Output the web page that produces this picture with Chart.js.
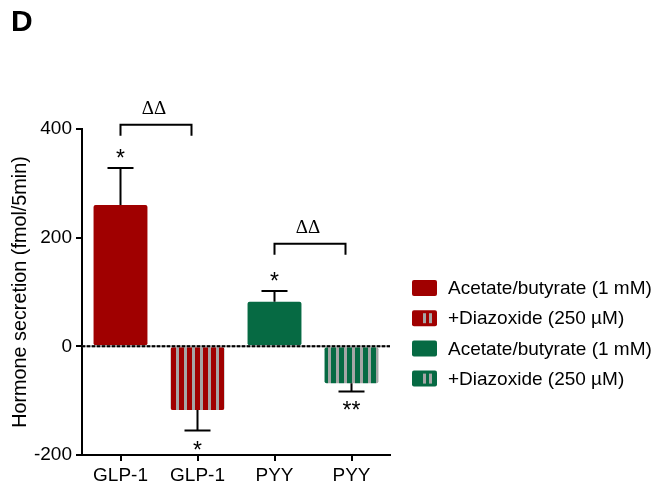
<!DOCTYPE html>
<html><head><meta charset="utf-8">
<script src="https://cdn.jsdelivr.net/npm/chart.js@4/dist/chart.umd.min.js"></script>
<style>html,body{margin:0;padding:0;background:#fff;}#wrap{width:665px;height:486px;position:relative;}</style>
</head><body><div id="wrap"><canvas id="c" width="665" height="486"></canvas></div>
<script>
// ---- data ----
const categories = ["GLP-1", "GLP-1", "PYY", "PYY"];
const means = [260, -117, 82, -68];
const sems = [68, 38, 20, 15];
const striped = [false, true, false, true];
const significance = ["*", "*", "*", "**"];
const yTicks = [-200, 0, 200, 400];
const legendLabels = ["Acetate/butyrate (1 mM)", "+Diazoxide (250 \u00B5M)", "Acetate/butyrate (1 mM)", "+Diazoxide (250 \u00B5M)"];
const bracketFrom = [0, 2];
const bracketTo = [1, 3];
const bracketLevel = [408, 189];
const bracketLabel = ["\u0394\u0394", "\u0394\u0394"];
const panelLabel = "D";
const yTitle = "Hormone secretion (fmol/5min)";

// ---- styles ----
const RED = '#A00000', GREEN = '#066A43', STRIPE = '#A6A6A6';
const baseColors = [RED, RED, GREEN, GREEN];
const SANS = "'Liberation Sans', Arial, Helvetica, sans-serif";
const SERIF = "'Liberation Serif', 'Times New Roman', serif";
const canvas = document.getElementById('c');
const ctx0 = canvas.getContext('2d');
function stripePattern(base) {
  const c = document.createElement('canvas'); c.width = 8; c.height = 8;
  const x = c.getContext('2d');
  x.fillStyle = base; x.fillRect(0, 0, 8, 8);
  x.fillStyle = STRIPE; x.fillRect(0, 0, 3, 8);
  return ctx0.createPattern(c, 'repeat');
}
const fills = baseColors.map((c, i) => striped[i] ? stripePattern(c) : c);

const overlay = {
  id: 'overlay',
  afterDatasetsDraw(chart) {
    const ctx = chart.ctx, xs = chart.scales.x, ys = chart.scales.y, ca = chart.chartArea;
    ctx.save();
    // zero line
    const y0 = ys.getPixelForValue(0);
    ctx.lineWidth = 2;
    ctx.strokeStyle = '#8a8a8a';
    ctx.beginPath(); ctx.moveTo(ca.left, y0); ctx.lineTo(ca.right, y0); ctx.stroke();
    ctx.setLineDash([3, 2]); ctx.strokeStyle = '#000';
    ctx.beginPath(); ctx.moveTo(ca.left, y0); ctx.lineTo(ca.right, y0); ctx.stroke();
    ctx.setLineDash([]);
    // error bars + asterisks
    ctx.strokeStyle = '#000'; ctx.lineWidth = 2;
    ctx.fillStyle = '#000';
    ctx.font = '23px ' + SANS; ctx.textAlign = 'center'; ctx.textBaseline = 'alphabetic';
    means.forEach((m, i) => {
      const x = xs.getPixelForValue(i);
      const dir = m >= 0 ? 1 : -1;
      const yA = ys.getPixelForValue(m), yB = ys.getPixelForValue(m + dir * sems[i]);
      ctx.beginPath(); ctx.moveTo(x, yA); ctx.lineTo(x, yB);
      ctx.moveTo(x - 13, yB); ctx.lineTo(x + 13, yB); ctx.stroke();
      const ty = dir > 0 ? yB - 2 : yB + 27;
      ctx.fillText(significance[i], x, ty);
    });
    // brackets
    ctx.font = '19px ' + SERIF;
    bracketFrom.forEach((f, k) => {
      const x1 = xs.getPixelForValue(f), x2 = xs.getPixelForValue(bracketTo[k]) - 6;
      const y = ys.getPixelForValue(bracketLevel[k]);
      ctx.beginPath(); ctx.moveTo(x1, y + 11); ctx.lineTo(x1, y); ctx.lineTo(x2, y); ctx.lineTo(x2, y + 11); ctx.stroke();
      ctx.fillText(bracketLabel[k], (x1 + x2) / 2 - 2, y - 11);
    });
    ctx.restore();
  },
  afterDraw(chart) {
    const ctx = chart.ctx;
    ctx.save();
    // panel label
    ctx.fillStyle = '#000'; ctx.font = 'bold 30px ' + SANS;
    ctx.textAlign = 'left'; ctx.textBaseline = 'alphabetic';
    ctx.fillText(panelLabel, 11, 31);
    // legend
    ctx.font = '19px ' + SANS; ctx.textBaseline = 'middle';
    legendLabels.forEach((t, i) => {
      const cy = 288 + i * 30.2;
      ctx.fillStyle = baseColors[i];
      ctx.beginPath(); ctx.roundRect(412, cy - 8, 25, 16, 2); ctx.fill();
      if (striped[i]) {
        ctx.fillStyle = STRIPE;
        ctx.fillRect(423, cy - 5, 3, 10); ctx.fillRect(429, cy - 5, 3, 10);
      }
      ctx.fillStyle = '#000';
      ctx.fillText(t, 448, cy + 1);
    });
    ctx.restore();
  }
};

new Chart(canvas, {
  type: 'bar',
  data: {
    labels: categories,
    datasets: [{
      data: means,
      backgroundColor: fills,
      borderWidth: 0,
      borderRadius: 2,
      borderSkipped: false,
      barPercentage: 0.7,
      categoryPercentage: 1.0
    }]
  },
  options: {
    responsive: false, maintainAspectRatio: false, animation: false, devicePixelRatio: 1,
    layout: { padding: { left: 0, right: 275, top: 129, bottom: 0 } },
    plugins: { legend: { display: false }, tooltip: { enabled: false } },
    scales: {
      x: {
        afterFit: s => { s.height = 31; },
        border: { display: true, color: '#000', width: 2 },
        grid: { offset: false, drawOnChartArea: false, drawTicks: true, tickLength: 6, color: '#000', lineWidth: 2 },
        ticks: { color: '#000', font: { family: SANS, size: 19 }, padding: 3, maxRotation: 0, autoSkip: false }
      },
      y: {
        min: -200, max: 400,
        afterBuildTicks: s => { s.ticks = yTicks.map(v => ({ value: v })); },
        afterFit: s => { s.width = 82; },
        border: { display: true, color: '#000', width: 2 },
        grid: { drawOnChartArea: false, drawTicks: true, tickLength: 6, color: '#000', lineWidth: 2 },
        ticks: { color: '#000', font: { family: SANS, size: 19 }, padding: 4 },
        title: { display: true, text: yTitle, color: '#000', font: { family: SANS, size: 19.8 }, padding: { top: 9, bottom: 0 } }
      }
    }
  },
  plugins: [overlay]
});
</script></body></html>
